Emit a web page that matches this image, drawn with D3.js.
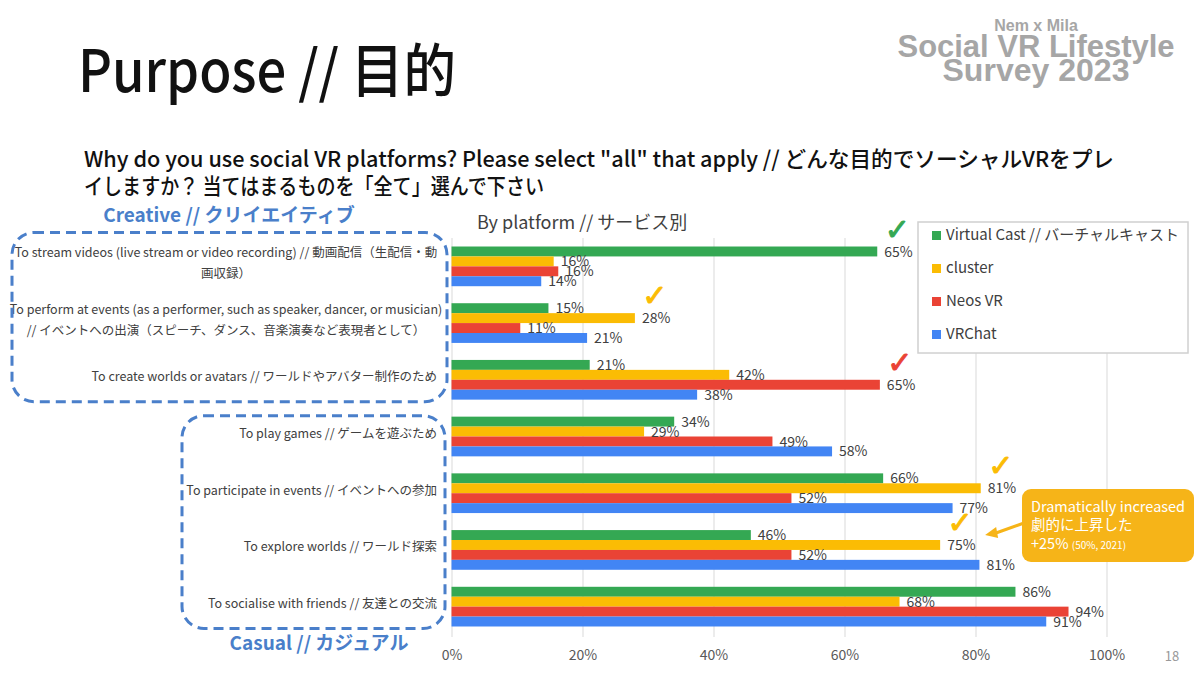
<!DOCTYPE html>
<html>
<head>
<meta charset="utf-8">
<script src="https://cdn.jsdelivr.net/npm/d3@7"></script>
<style>
  html, body { margin: 0; padding: 0; background: #fff; }
  svg { display: block; }
</style>
</head>
<body>
<div id="chart"></div>
<script>
// categories, top to bottom (line breaks as in the slide)
const categories = [
  ["To stream videos (live stream or video recording) // 動画配信（生配信・動", "画収録）"],
  ["To perform at events (as a performer, such as speaker, dancer, or musician)", "// イベントへの出演（スピーチ、ダンス、音楽演奏など表現者として）"],
  ["To create worlds or avatars // ワールドやアバター制作のため"],
  ["To play games // ゲームを遊ぶため"],
  ["To participate in events // イベントへの参加"],
  ["To explore worlds // ワールド探索"],
  ["To socialise with friends // 友達との交流"]
];
const series = ["Virtual Cast // バーチャルキャスト", "cluster", "Neos VR", "VRChat"];
const seriesColors = ["#34a853", "#fbbc04", "#ea4335", "#4285f4"];

// % of respondents
const virtualCast = [65.0, 14.8, 21.1, 34.0, 65.9, 45.7, 86.1];
const cluster     = [15.6, 28.0, 42.4, 29.4, 80.8, 74.6, 68.4];
const neosVR      = [16.3, 10.5, 65.4, 49.0, 51.9, 51.9, 94.2];
const vrChat      = [13.7, 20.7, 37.5, 58.1, 76.5, 80.6, 90.8];

const xTicks = [0, 20, 40, 60, 80, 100];

// check marks: [category index, series index]
const checks = [[0, 0], [1, 1], [2, 2], [4, 1], [5, 1]];

const width = 1200;
const height = 675;
const marginTop = 238;
const marginBottom = 40;
const marginLeft = 451.5;
const marginRight = 93.5;

const jp = "'Noto Sans CJK JP', 'Noto Sans', sans-serif";

const svg = d3.select("#chart")
  .append("svg")
  .attr("width", width)
  .attr("height", height);

const catIds = categories.map((c, i) => i);
const y = d3.scaleBand()
  .domain(catIds)
  .range([marginTop, height - marginBottom])
  .paddingInner(0.3)
  .paddingOuter(0.15);

const ySub = d3.scaleBand()
  .domain(series)
  .range([0, y.bandwidth()]);

const x = d3.scaleLinear()
  .domain([0, 100])
  .range([marginLeft, width - marginRight]);

const color = d3.scaleOrdinal().domain(series).range(seriesColors);

const allValues = [virtualCast, cluster, neosVR, vrChat];
const bars = [];
catIds.forEach(ci => {
  series.forEach((s, si) => bars.push({ cat: ci, key: s, value: allValues[si][ci] }));
});

// ---- header texts ----
svg.append("text")
  .attr("x", 78).attr("y", 92)
  .attr("textLength", 378).attr("lengthAdjust", "spacingAndGlyphs")
  .style("font-family", jp).style("font-weight", 500).style("font-size", "58px").style("fill", "#111")
  .text("Purpose // 目的");

const logo = svg.append("g").style("font-family", "'Liberation Sans', Arial, sans-serif")
  .style("font-weight", "bold").style("fill", "#a6a6a6").attr("text-anchor", "middle");
logo.append("text").attr("x", 1036).attr("y", 31).style("font-size", "16px").text("Nem x Mila");
logo.append("text").attr("x", 1036).attr("y", 57)
  .attr("textLength", 277).attr("lengthAdjust", "spacingAndGlyphs")
  .style("font-size", "31px").text("Social VR Lifestyle");
logo.append("text").attr("x", 1036).attr("y", 81)
  .attr("textLength", 187).attr("lengthAdjust", "spacingAndGlyphs")
  .style("font-size", "31px").text("Survey 2023");

const q = svg.append("g").style("font-family", jp).style("font-weight", 500).style("font-size", "22px").style("fill", "#111");
q.append("text").attr("x", 84).attr("y", 167)
  .attr("textLength", 1030).attr("lengthAdjust", "spacingAndGlyphs")
  .text("Why do you use social VR platforms? Please select \"all\" that apply // どんな目的でソーシャルVRをプレ");
q.append("text").attr("x", 84).attr("y", 194)
  .attr("textLength", 460).attr("lengthAdjust", "spacingAndGlyphs")
  .text("イしますか？ 当てはまるものを「全て」選んで下さい");

svg.append("text")
  .attr("x", 477).attr("y", 229)
  .style("font-family", jp).style("font-size", "18px").style("fill", "#404040")
  .text("By platform // サービス別");

// ---- grid + axis ----
svg.append("g")
  .attr("transform", `translate(0,${marginTop})`)
  .call(d3.axisBottom(x).tickValues(xTicks).tickSize(height - marginBottom - marginTop + 2).tickFormat(""))
  .call(g => g.select(".domain").remove())
  .call(g => g.selectAll("line").attr("stroke", "#d9d9d9"));

svg.append("g")
  .attr("transform", `translate(0,${height - 18})`)
  .call(d3.axisBottom(x).tickValues(xTicks).tickSize(0).tickFormat(d => d + "%"))
  .call(g => g.select(".domain").remove())
  .call(g => g.selectAll("text")
    .attr("dy", "0")
    .style("font-family", jp).style("font-size", "14px").style("fill", "#595959"));

// ---- bars ----
svg.selectAll(".bar")
  .data(bars)
  .enter()
  .append("rect")
  .attr("x", x(0))
  .attr("y", d => y(d.cat) + ySub(d.key))
  .attr("width", d => x(d.value) - x(0))
  .attr("height", ySub.bandwidth())
  .attr("fill", d => color(d.key));

svg.selectAll(".val")
  .data(bars)
  .enter()
  .append("text")
  .attr("x", d => x(d.value) + 7)
  .attr("y", d => y(d.cat) + ySub(d.key) + ySub.bandwidth() / 2)
  .attr("dy", "0.36em")
  .style("font-family", jp).style("font-size", "14px").style("fill", "#404040")
  .text(d => Math.round(d.value) + "%");

// ---- check marks ----
svg.selectAll(".check")
  .data(checks)
  .enter()
  .append("text")
  .attr("x", d => x(allValues[d[1]][d[0]]) + 20)
  .attr("y", d => y(d[0]) + ySub(series[d[1]]) - 7)
  .attr("text-anchor", "middle")
  .style("font-family", "'DejaVu Sans', sans-serif").style("font-size", "30px")
  .style("fill", d => seriesColors[d[1]])
  .attr("stroke", d => seriesColors[d[1]]).attr("stroke-width", 1)
  .text("✓");

// ---- category labels ----
const labelG = svg.append("g").style("font-family", jp).style("font-size", "12.5px").style("fill", "#404040");
categories.forEach((lines, ci) => {
  const cy = y(ci) + y.bandwidth() / 2 - 3;
  lines.forEach((t, li) => {
    const multi = lines.length > 1;
    labelG.append("text")
      .attr("x", multi ? 226 : 437)
      .attr("y", cy + (li - (lines.length - 1) / 2) * 21)
      .attr("dy", "0.35em")
      .attr("text-anchor", multi ? "middle" : "end")
      .text(t);
  });
});

// ---- dashed group boxes ----
const boxBlue = "#4a7fca";
svg.append("rect")
  .attr("x", 12).attr("y", y(0) - 14)
  .attr("width", 435).attr("height", y(2) + y.bandwidth() + 2 - (y(0) - 14))
  .attr("rx", 22).attr("fill", "none")
  .attr("stroke", boxBlue).attr("stroke-width", 3).attr("stroke-dasharray", "10,6");
svg.append("rect")
  .attr("x", 182).attr("y", y(3) - 1)
  .attr("width", 263).attr("height", y(6) + y.bandwidth() + 2 - (y(3) - 1))
  .attr("rx", 22).attr("fill", "none")
  .attr("stroke", boxBlue).attr("stroke-width", 3).attr("stroke-dasharray", "10,6");

svg.append("text")
  .attr("x", 229).attr("y", y(0) - 25)
  .attr("text-anchor", "middle")
  .style("font-family", jp).style("font-weight", "bold").style("font-size", "19px").style("fill", boxBlue)
  .text("Creative // クリイエイティブ");
svg.append("text")
  .attr("x", 319).attr("y", y(6) + y.bandwidth() + 24)
  .attr("text-anchor", "middle")
  .style("font-family", jp).style("font-weight", "bold").style("font-size", "19px").style("fill", boxBlue)
  .text("Casual // カジュアル");

// ---- legend ----
const legend = svg.append("g").attr("transform", "translate(918,222)");
legend.append("rect")
  .attr("width", 270).attr("height", 131)
  .attr("fill", "#fff").attr("stroke", "#d0d0d0").attr("stroke-width", 1.5);
series.forEach((s, i) => {
  const row = legend.append("g").attr("transform", `translate(14,${13 + i * 33})`);
  row.append("rect").attr("x", 0).attr("y", -4).attr("width", 9).attr("height", 9).attr("fill", seriesColors[i]);
  row.append("text").attr("x", 14).attr("y", 0).attr("dy", "0.35em")
    .style("font-family", jp).style("font-size", "15px").style("fill", "#404040")
    .text(s);
});

// ---- callout ----
const orange = "#f6b418";
const arrowTip = [x(cluster[5]) + 45, y(5) + ySub("cluster") - 6];
svg.append("line")
  .attr("x1", 1024).attr("y1", arrowTip[1] - 11)
  .attr("x2", arrowTip[0] + 8).attr("y2", arrowTip[1])
  .attr("stroke", orange).attr("stroke-width", 3);
svg.append("path")
  .attr("d", `M${arrowTip[0]},${arrowTip[1] + 1} l11,-8 l2,11 z`)
  .attr("fill", orange);
svg.append("rect")
  .attr("x", 1022).attr("y", 489).attr("width", 172).attr("height", 73)
  .attr("rx", 9).attr("fill", orange);
const call = svg.append("g").style("font-family", jp).style("fill", "#fff");
call.append("text").attr("x", 1031).attr("y", 512).style("font-size", "14.5px").text("Dramatically increased");
call.append("text").attr("x", 1031).attr("y", 530).style("font-size", "14.5px").text("劇的に上昇した");
const plus = call.append("text").attr("x", 1031).attr("y", 549).style("font-size", "14.5px");
plus.append("tspan").text("+25% ");
plus.append("tspan").style("font-size", "10px").text("(50%, 2021)");

// page number
svg.append("text")
  .attr("x", 1172).attr("y", 661).attr("text-anchor", "middle")
  .style("font-family", jp).style("font-size", "13px").style("fill", "#999")
  .text("18");
</script>
</body>
</html>
